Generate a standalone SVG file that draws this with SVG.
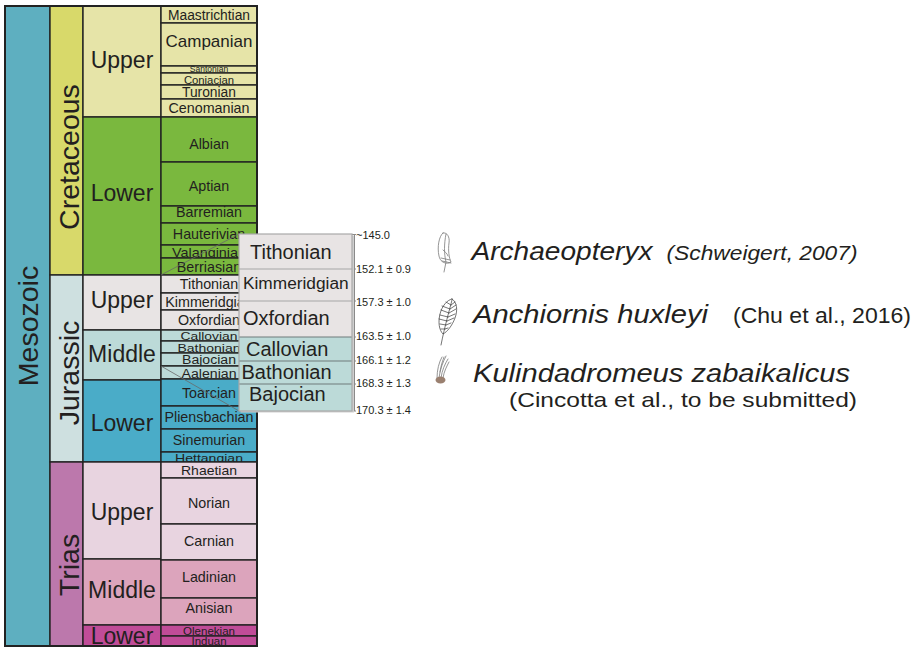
<svg xmlns="http://www.w3.org/2000/svg" width="918" height="649" viewBox="0 0 918 649">
  <style>
    text { font-family: "Liberation Sans", Arial, sans-serif; fill: #231f20; }
    .cell { stroke: #222; stroke-width: 1.4; }
    .st { font-size: 14.3px; text-anchor: middle; }
    .ep { font-size: 23px; text-anchor: middle; }
    .pe { font-size: 28.5px; text-anchor: middle; }
    .ins { font-size: 20px; }
    .age { font-size: 11px; }
    .sp { font-style: italic; font-size: 26px; }
    .ref { font-size: 22px; }
    .uc { fill: #e6e4a8; } .lc { fill: #7ab83e; }
    .uj { fill: #e8e4e4; } .mj { fill: #bcdad8; } .lj { fill: #4aacc8; }
    .ut { fill: #e8d4e0; } .mt { fill: #dca4bc; } .lt { fill: #c04c98; }
    .lead { stroke: #6a6a6a; stroke-width: 0.8; fill: none; }
    .sketch { stroke: #7a7a7a; stroke-width: 0.8; fill: none; stroke-linecap: round; }
    .dark { stroke: #3a3a3a; stroke-width: 0.7; fill: none; stroke-linecap: round; }
  </style>

  <rect width="918" height="649" fill="#ffffff"/>

  <!-- Era -->
  <g id="era-mesozoic">
    <rect class="cell" x="5" y="6" width="45" height="640" fill="#5eafc0"/>
    <text class="pe" transform="translate(38,326) rotate(-90)">Mesozoic</text>
  </g>

  <!-- Periods -->
  <g id="period-cretaceous">
    <rect class="cell" x="50" y="6" width="33" height="269" fill="#d8d96a"/>
    <text class="pe" transform="translate(79,157) rotate(-90)">Cretaceous</text>
  </g>
  <g id="period-jurassic">
    <rect class="cell" x="50" y="275" width="33" height="187" fill="#cee0e0"/>
    <text class="pe" transform="translate(79,373) rotate(-90)">Jurassic</text>
  </g>
  <g id="period-trias">
    <rect class="cell" x="50" y="462" width="33" height="184" fill="#bc78ac"/>
    <text class="pe" transform="translate(79,565) rotate(-90)">Trias</text>
  </g>

  <!-- Epochs -->
  <g id="epoch-upper-cretaceous"><rect class="cell uc" x="83" y="6" width="78" height="111"/><text class="ep" x="122" y="68">Upper</text></g>
  <g id="epoch-lower-cretaceous"><rect class="cell lc" x="83" y="117" width="78" height="158"/><text class="ep" x="122" y="201">Lower</text></g>
  <g id="epoch-upper-jurassic"><rect class="cell uj" x="83" y="275" width="78" height="55"/><text class="ep" x="122" y="308">Upper</text></g>
  <g id="epoch-middle-jurassic"><rect class="cell mj" x="83" y="330" width="78" height="50"/><text class="ep" x="122" y="362">Middle</text></g>
  <g id="epoch-lower-jurassic"><rect class="cell lj" x="83" y="380" width="78" height="82"/><text class="ep" x="122" y="431">Lower</text></g>
  <g id="epoch-upper-trias"><rect class="cell ut" x="83" y="462" width="78" height="97"/><text class="ep" x="122" y="520">Upper</text></g>
  <g id="epoch-middle-trias"><rect class="cell mt" x="83" y="559" width="78" height="66"/><text class="ep" x="122" y="598">Middle</text></g>
  <g id="epoch-lower-trias"><rect class="cell lt" x="83" y="625" width="78" height="21"/><text class="ep" x="122" y="644">Lower</text></g>

  <!-- Stages -->
  <g id="stage-maastrichtian"><rect class="cell uc" x="161" y="6" width="96" height="17"/><text class="st" x="209" y="20" style="font-size:13.8px">Maastrichtian</text></g>
  <g id="stage-campanian"><rect class="cell uc" x="161" y="23" width="96" height="43"/><text class="st" x="209" y="47" style="font-size:17px">Campanian</text></g>
  <g id="stage-santonian"><rect class="cell uc" x="161" y="66" width="96" height="7"/><text class="st" x="209" y="72" style="font-size:8.5px">Santonian</text></g>
  <g id="stage-coniacian"><rect class="cell uc" x="161" y="73" width="96" height="12"/><text class="st" x="209" y="83.5" style="font-size:11.3px">Coniacian</text></g>
  <g id="stage-turonian"><rect class="cell uc" x="161" y="85" width="96" height="14"/><text class="st" x="209" y="97" style="font-size:13.8px">Turonian</text></g>
  <g id="stage-cenomanian"><rect class="cell uc" x="161" y="99" width="96" height="18"/><text class="st" x="209" y="113">Cenomanian</text></g>
  <g id="stage-albian"><rect class="cell lc" x="161" y="117" width="96" height="45"/><text class="st" x="209" y="149">Albian</text></g>
  <g id="stage-aptian"><rect class="cell lc" x="161" y="162" width="96" height="44"/><text class="st" x="209" y="191">Aptian</text></g>
  <g id="stage-barremian"><rect class="cell lc" x="161" y="206" width="96" height="17"/><text class="st" x="209" y="217">Barremian</text></g>
  <g id="stage-hauterivian"><rect class="cell lc" x="161" y="223" width="96" height="22"/><text class="st" x="209" y="239">Hauterivian</text></g>
  <g id="stage-valanginian"><rect class="cell lc" x="161" y="245" width="96" height="13"/><text class="st" x="209" y="257" style="font-size:13px" textLength="74" lengthAdjust="spacingAndGlyphs">Valanginian</text></g>
  <g id="stage-berriasian"><rect class="cell lc" x="161" y="258" width="96" height="17"/><text class="st" x="209" y="272">Berriasian</text></g>
  <g id="stage-tithonian"><rect class="cell uj" x="161" y="275" width="96" height="18"/><text class="st" x="209" y="289">Tithonian</text></g>
  <g id="stage-kimmeridgian"><rect class="cell uj" x="161" y="293" width="96" height="17"/><text class="st" x="209" y="307">Kimmeridgian</text></g>
  <g id="stage-oxfordian"><rect class="cell uj" x="161" y="310" width="96" height="20"/><text class="st" x="209" y="325">Oxfordian</text></g>
  <g id="stage-callovian"><rect class="cell mj" x="161" y="330" width="96" height="11"/><text class="st" x="209" y="340" style="font-size:11.5px" textLength="57" lengthAdjust="spacingAndGlyphs">Callovian</text></g>
  <g id="stage-bathonian"><rect class="cell mj" x="161" y="341" width="96" height="12"/><text class="st" x="209" y="352" style="font-size:11.5px" textLength="63" lengthAdjust="spacingAndGlyphs">Bathonian</text></g>
  <g id="stage-bajocian"><rect class="cell mj" x="161" y="353" width="96" height="13"/><text class="st" x="209" y="364" style="font-size:12px" textLength="54" lengthAdjust="spacingAndGlyphs">Bajocian</text></g>
  <g id="stage-aalenian"><rect class="cell mj" x="161" y="366" width="96" height="13"/><text class="st" x="209" y="377.5" style="font-size:12.5px" textLength="55" lengthAdjust="spacingAndGlyphs">Aalenian</text></g>
  <g id="stage-toarcian"><rect class="cell lj" x="161" y="379" width="96" height="27"/><text class="st" x="209" y="398">Toarcian</text></g>
  <g id="stage-pliensbachian"><rect class="cell lj" x="161" y="406" width="96" height="23"/><text class="st" x="209" y="422">Pliensbachian</text></g>
  <g id="stage-sinemurian"><rect class="cell lj" x="161" y="429" width="96" height="23"/><text class="st" x="209" y="444.5">Sinemurian</text></g>
  <g id="stage-hettangian"><rect class="cell lj" x="161" y="452" width="96" height="10"/><text class="st" x="209" y="461.5" style="font-size:11.5px" textLength="68" lengthAdjust="spacingAndGlyphs">Hettangian</text></g>
  <g id="stage-rhaetian"><rect class="cell ut" x="161" y="462" width="96" height="16"/><text class="st" x="209" y="475" style="font-size:13px" textLength="56" lengthAdjust="spacingAndGlyphs">Rhaetian</text></g>
  <g id="stage-norian"><rect class="cell ut" x="161" y="478" width="96" height="46"/><text class="st" x="209" y="508">Norian</text></g>
  <g id="stage-carnian"><rect class="cell ut" x="161" y="524" width="96" height="36"/><text class="st" x="209" y="546">Carnian</text></g>
  <g id="stage-ladinian"><rect class="cell mt" x="161" y="560" width="96" height="38"/><text class="st" x="209" y="582">Ladinian</text></g>
  <g id="stage-anisian"><rect class="cell mt" x="161" y="598" width="96" height="27"/><text class="st" x="209" y="613">Anisian</text></g>
  <g id="stage-olenekian"><rect class="cell lt" x="161" y="625" width="96" height="11"/><text class="st" x="209" y="634.5" style="font-size:10.5px" textLength="52" lengthAdjust="spacingAndGlyphs">Olenekian</text></g>
  <g id="stage-induan"><rect class="cell lt" x="161" y="636" width="96" height="10"/><text class="st" x="209" y="645" style="font-size:10.5px" textLength="35" lengthAdjust="spacingAndGlyphs">Induan</text></g>

  <!-- outer frame -->
  <rect x="5" y="6" width="252" height="640" fill="none" stroke="#222" stroke-width="2"/>

  <!-- Connectors: enlargement leads and age axis -->
  <g id="connectors">
    <line class="lead" x1="161" y1="275" x2="239" y2="234"/>
    <line class="lead" x1="161" y1="366" x2="239" y2="411"/>
    <path d="M352,234.5 H356 M354.5,234.5 V411 M352,269 H356 M352,301 H356 M352,337 H356 M352,361 H356 M352,384 H356 M352,411 H356" stroke="#8a8a8a" stroke-width="1" fill="none"/>
  </g>

  <!-- Enlarged Late–Middle Jurassic stages -->
  <g id="inset-shadow">
    <rect x="240.5" y="235.5" width="113.5" height="177" fill="#cfcfcf"/>
  </g>
  <g id="inset-tithonian"><rect x="239" y="234" width="113" height="35" fill="#e8e4e4"/><text class="ins" x="250" y="258.5">Tithonian</text></g>
  <g id="inset-kimmeridgian"><rect x="239" y="269" width="113" height="32" fill="#e8e4e4"/><text class="ins" x="243" y="288.5" style="font-size:17.3px">Kimmeridgian</text></g>
  <g id="inset-oxfordian"><rect x="239" y="301" width="113" height="36" fill="#e8e4e4"/><text class="ins" x="243" y="325">Oxfordian</text></g>
  <g id="inset-callovian"><rect x="239" y="337" width="113" height="24" fill="#bcdad8"/><text class="ins" x="246" y="356">Callovian</text></g>
  <g id="inset-bathonian"><rect x="239" y="361" width="113" height="23" fill="#bcdad8"/><text class="ins" x="241.5" y="379">Bathonian</text></g>
  <g id="inset-bajocian"><rect x="239" y="384" width="113" height="27" fill="#bcdad8"/><text class="ins" x="249" y="401">Bajocian</text></g>
  <g id="inset-dividers">
    <path d="M239,269 H352 M239,301 H352" stroke="#a6a6a6" stroke-width="1.2"/>
    <path d="M239,337 H352 M239,361 H352 M239,384 H352" stroke="#6e7a7a" stroke-width="1.1"/>
    <rect x="239" y="234" width="113" height="177" fill="none" stroke="#a9a9a9" stroke-width="1.2"/>
  </g>

  <!-- Boundary ages -->
  <g id="ages">
    <text class="age" x="356" y="238.5">~145.0</text>
    <text class="age" x="356" y="273.3">152.1 ± 0.9</text>
    <text class="age" x="356" y="305.5">157.3 ± 1.0</text>
    <text class="age" x="356" y="340">163.5 ± 1.0</text>
    <text class="age" x="356" y="364.3">166.1 ± 1.2</text>
    <text class="age" x="356" y="386.7">168.3 ± 1.3</text>
    <text class="age" x="356" y="414">170.3 ± 1.4</text>
  </g>

  <!-- Feathered taxa -->
  <g id="taxon-archaeopteryx">
    <path class="sketch" d="M443,233 C439,236 437,247 439,256 C440,261 444,264 449,263 L451,262 C449,258 448,250 449,243 C450,237 447,232 443,233 Z"/>
    <path class="sketch" d="M446,234 C444,244 444,254 446,262 L444,272"/>
    <path class="sketch" d="M441,258 L450,260 M442,261 L451,263 M443,250 C445,252 447,253 448,256"/>
    <text class="sp" x="471.5" y="260" textLength="181" lengthAdjust="spacingAndGlyphs">Archaeopteryx</text>
    <text class="ref" x="666.5" y="260" style="font-style:italic;font-size:20px" textLength="191" lengthAdjust="spacingAndGlyphs">(Schweigert, 2007)</text>
  </g>
  <g id="taxon-anchiornis">
    <path class="dark" d="M452,299 C457,302 458,310 455,318 C452,326 447,332 443,334 C439,330 438,322 440,314 C442,306 447,300 452,299 Z"/>
    <path class="dark" d="M452,300 C449,312 445,325 441,345"/>
    <path class="dark" d="M451,305 L446,302 M450,309 L442,306 M449,313 L441,310 M448,317 L440,315 M447,321 L439,319 M446,325 L440,324 M445,329 L441,329
                          M451,305 L455,302 M450,309 L456,305 M449,313 L456,309 M448,317 L455,314 M447,321 L454,318 M446,325 L451,323 M445,329 L448,328"/>
    <text class="sp" x="473" y="323" textLength="235" lengthAdjust="spacingAndGlyphs">Anchiornis huxleyi</text>
    <text class="ref" x="733" y="322.7" textLength="178" lengthAdjust="spacingAndGlyphs">(Chu et al., 2016)</text>
  </g>
  <g id="taxon-kulindadromeus">
    <path class="sketch" d="M437,378 C437,370 439,362 442,357 M439,378 C440,369 443,362 446,356 M441,378 C442,370 445,364 448,359 M443,378 C444,371 447,366 449,362 M440,372 C441,365 443,360 444,357"/>
    <ellipse cx="440.5" cy="380" rx="5" ry="3.5" fill="#9a8070"/>
    <text class="sp" x="473" y="382" style="font-size:25px" textLength="377" lengthAdjust="spacingAndGlyphs">Kulindadromeus zabaikalicus</text>
    <text class="ref" x="509" y="406.5" style="font-size:21px" textLength="348" lengthAdjust="spacingAndGlyphs">(Cincotta et al., to be submitted)</text>
  </g>
</svg>
